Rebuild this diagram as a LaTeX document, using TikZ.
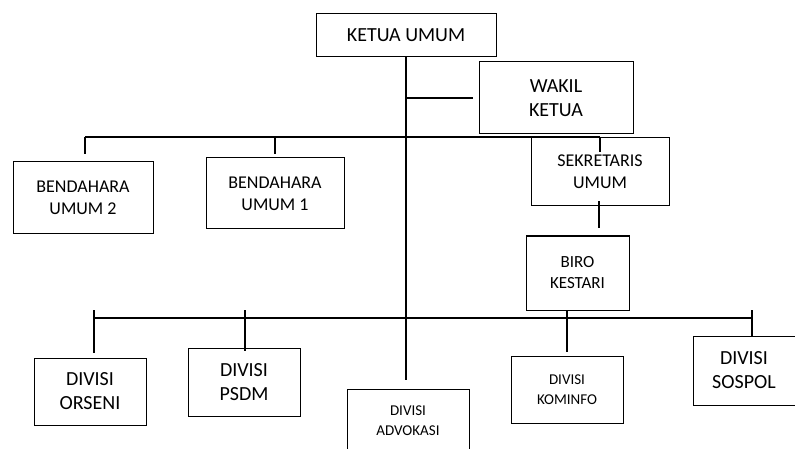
\documentclass[tikz,border=0pt]{standalone}
\usepackage{fontspec}
\setmainfont{Carlito}
\usetikzlibrary{positioning}

\tikzset{
  unit/.style={draw, line width=1pt, rectangle, align=center, inner sep=0pt},
  big/.style={font=\fontsize{20}{24}\selectfont},
  mid/.style={font=\fontsize{18}{22}\selectfont},
  small/.style={font=\fontsize{15}{20}\selectfont},
  link/.style={line width=1.6pt},
}

\begin{document}
\begin{tikzpicture}[x=1pt,y=-1pt]
\useasboundingbox (0,0) rectangle (795,449);
% pengurus inti
\node[unit,big,minimum width=180,minimum height=43] (ketua) at (406,35.5) {KETUA UMUM};
\node[unit,big,minimum width=154,minimum height=72] (wakil) at (556,98) {WAKIL\\KETUA};
\node[unit,mid,minimum width=140,minimum height=72] (bend2) at (83,198) {BENDAHARA\\UMUM 2};
\node[unit,mid,minimum width=138,minimum height=71] (bend1) at (275,193.5) {BENDAHARA\\UMUM 1};
\node[unit,mid,minimum width=138,minimum height=68] (sekum) at (600,172) {SEKRETARIS\\UMUM};
\node[unit,font=\fontsize{17}{21}\selectfont,minimum width=103,minimum height=74] (biro) at (577.5,273) {BIRO\\KESTARI};
% divisi
\node[unit,big,minimum width=112,minimum height=67] (orseni) at (90,391.5) {DIVISI\\ORSENI};
\node[unit,big,minimum width=112,minimum height=68] (psdm) at (244,382) {DIVISI\\PSDM};
\node[unit,small,minimum width=122,minimum height=64] (advokasi) at (408,421) {DIVISI\\ADVOKASI};
\node[unit,small,minimum width=112,minimum height=67] (kominfo) at (567,389.5) {DIVISI\\KOMINFO};
\node[unit,big,minimum width=102,minimum height=69] (sospol) at (744,370.5) {DIVISI\\SOSPOL};

\coordinate (trunkend) at (406,380);
\coordinate (wakilbranch) at (406,98);
\coordinate (topbus l) at (85,137);
\coordinate (topbus r) at (600,137);
\coordinate (lowbus l) at (94,318);
\coordinate (lowbus r) at (752,318);

\path[link] (ketua.south) edge (trunkend);
\path[link] (wakilbranch) edge ([xshift=-6]wakil.west);
\path[link] (topbus l) edge (topbus r);
\path[link] (topbus l) edge ++(0,17);
\path[link] (topbus l -| bend1.north) edge ([yshift=3]bend1.north);
\path[link] (topbus r) edge ++(0,15);
\path[link] ([yshift=5]sekum.south -| 599,0) edge ([yshift=7]biro.north -| 599,0);
\path[link] (biro.south -| kominfo.north) edge ([yshift=4]kominfo.north);
\path[link] (lowbus l) edge (lowbus r);
\path[link] ([yshift=8]lowbus l) edge ++(0,43);
\path[link] ([yshift=8]lowbus l -| 245,0) edge ++(0,41);
\path[link] ([yshift=8]lowbus r) edge (sospol.north -| lowbus r);
\end{tikzpicture}
\end{document}
